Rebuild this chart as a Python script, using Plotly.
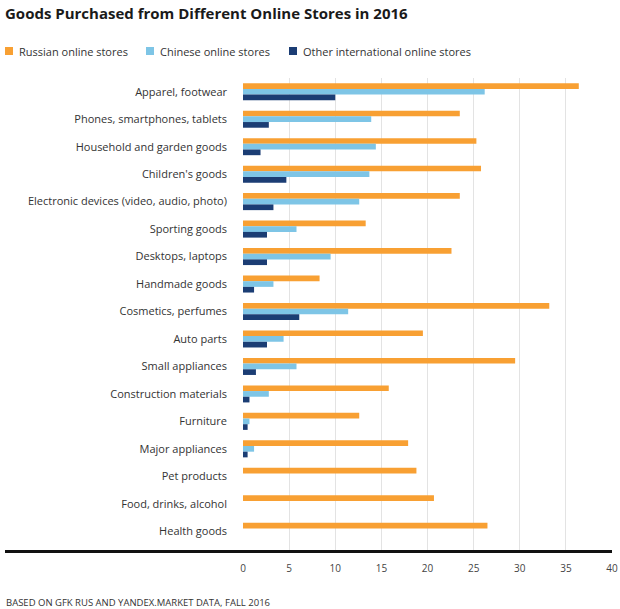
import plotly.graph_objects as go

categories = [
    "Apparel, footwear",
    "Phones, smartphones, tablets",
    "Household and garden goods",
    "Children's goods",
    "Electronic devices (video, audio, photo)",
    "Sporting goods",
    "Desktops, laptops",
    "Handmade goods",
    "Cosmetics, perfumes",
    "Auto parts",
    "Small appliances",
    "Construction materials",
    "Furniture",
    "Major appliances",
    "Pet products",
    "Food, drinks, alcohol",
    "Health goods",
]
russian = [36.4, 23.5, 25.3, 25.8, 23.5, 13.3, 22.6, 8.3, 33.2, 19.5, 29.5, 15.8, 12.6, 17.9, 18.8, 20.7, 26.5]
chinese = [26.2, 13.9, 14.4, 13.7, 12.6, 5.8, 9.5, 3.3, 11.4, 4.4, 5.8, 2.8, 0.7, 1.2, None, None, None]
other = [10.0, 2.8, 1.9, 4.7, 3.3, 2.6, 2.6, 1.2, 6.1, 2.6, 1.4, 0.7, 0.5, 0.5, None, None, None]
tick_vals = [0, 5, 10, 15, 20, 25, 30, 35, 40]
series_names = ["Russian online stores", "Chinese online stores", "Other international online stores"]
series_colors = ["#F8A033", "#7EC5E6", "#1B3D74"]

W, H = 620, 609
ML, MR, MT, MB = 243, 8, 78, 59
PW, PH = W - ML - MR, H - MT - MB


def px_x(p):
    return (p - ML) / PW


def px_y(p):
    return (H - MB - p) / PH


FONT = "Open Sans"
fig = go.Figure()
for name, vals, color in zip(series_names, [russian, chinese, other], series_colors):
    fig.add_trace(go.Bar(
        y=categories, x=vals, name=name, orientation="h",
        marker=dict(color=color, line=dict(width=0)), showlegend=False,
    ))

fig.update_layout(
    width=W, height=H,
    margin=dict(l=ML, r=MR, t=MT, b=MB, autoexpand=False),
    paper_bgcolor="white", plot_bgcolor="white",
    barmode="group", bargap=0.38, bargroupgap=0,
    font=dict(family=FONT, size=11, color="#333333"),
    title=dict(
        text="<b>Goods Purchased from Different Online Stores in 2016</b>",
        x=0.0, xanchor="left", y=1 - 14 / H, yanchor="middle",
        pad=dict(l=5, t=0, b=0, r=0),
        font=dict(family=FONT, size=15, color="#1a1a1a"),
    ),
    showlegend=False,
)
fig.update_xaxes(
    range=[0, 40], tickvals=tick_vals, showgrid=True, gridcolor="#e3e3e3",
    gridwidth=1, zeroline=False, showline=False, ticks="",
    ticklabelstandoff=11, tickfont=dict(size=10, color="#444444"),
)
fig.update_yaxes(
    autorange=False, range=[16.5 + 5.0 / 27.4, -0.5],
    showgrid=False, zeroline=False, showline=False,
    ticks="", ticklabelstandoff=15, tickfont=dict(size=11, color="#333333"),
)

# legend (manual, positioned like the reference)
legend_marker_px = [5, 146, 289]
for name, color, mx in zip(series_names, series_colors, legend_marker_px):
    fig.add_shape(
        type="rect", xref="paper", yref="paper",
        x0=px_x(mx), x1=px_x(mx + 8), y0=px_y(55), y1=px_y(47),
        fillcolor=color, line=dict(width=0),
    )
    fig.add_annotation(
        text=name, xref="paper", yref="paper",
        x=px_x(mx + 12), xanchor="left", y=px_y(51), yanchor="middle",
        showarrow=False, font=dict(family=FONT, size=11, color="#333333"),
    )

fig.add_shape(
    type="line", xref="paper", yref="paper",
    x0=px_x(5), x1=px_x(612), y0=px_y(551.5), y1=px_y(551.5),
    line=dict(color="#111111", width=3),
)
fig.add_annotation(
    text="BASED ON GFK RUS AND YANDEX.MARKET DATA, FALL 2016",
    xref="paper", yref="paper", x=px_x(4), xanchor="left",
    y=px_y(602), yanchor="middle", showarrow=False,
    font=dict(family=FONT, size=9.5, color="#333333"),
)
fig.write_html(
    "out.html",
    config={"displayModeBar": False},
    post_script="document.body.style.margin='0px';document.body.style.overflow='hidden';",
)
